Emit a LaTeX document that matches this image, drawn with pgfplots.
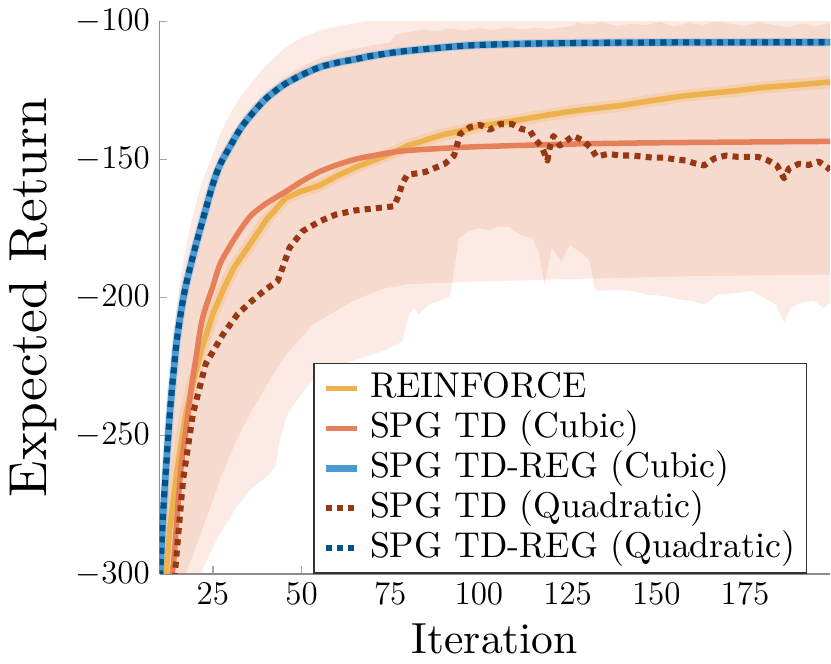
\documentclass[border=0pt]{standalone}
\usepackage{fontspec}
\setmainfont{lmroman10-regular}[Extension=.otf]
\usepackage{pgfplots}
\usepackage{pgfplotstable}
\pgfplotsset{compat=1.18}

\definecolor{cRein}{RGB}{237,177,78}
\definecolor{cTD}{RGB}{229,128,90}
\definecolor{cReg}{RGB}{75,155,210}
\definecolor{cTDq}{RGB}{150,56,20}
\definecolor{cRegq}{RGB}{0,82,136}

% mean curves
\pgfplotstableread{
x y
11 -320
11.8 -300
13 -282
15 -262
17.4 -242
20 -228
22 -218
25 -206
28 -197
31 -189
34.8 -182
40 -172
45.5 -164
50 -161.5
55 -159.5
60 -156
65 -153
70 -150.5
76 -147.5
80 -145
85 -143
90 -141
95 -139.7
100 -138
110 -136
117.7 -134.3
125 -132.8
130 -132
140 -130.5
150 -128.5
158 -127
170 -125.5
180 -124
190 -123
199 -122
}\rein

\pgfplotstableread{
x y
13 -305
14 -295
15 -278
16 -262
17.4 -248
19 -232
20 -224
22 -208
25 -196
27 -188
30 -181
33 -175
36 -170
40 -166
45.5 -161.7
50 -158
55 -154.5
60 -152
65 -150
70 -148.7
78 -147
90 -146
100 -145.4
125 -144.5
150 -144
199 -143.5
}\tdcub

\pgfplotstableread{
x y
10 -305
11 -278
12 -258
13 -240
14 -226
15 -214
17 -198
20 -182
23 -168
25 -159
27 -152
30 -145
33 -138.5
36 -133.6
40 -128
45 -123
50 -119.5
55 -116.7
60 -115
65 -113.8
70 -112.5
78 -111
90 -109.5
100 -108.6
120 -108
150 -107.7
199 -107.6
}\regcub

\pgfplotstableread{
x y
13.5 -310
14.3 -300
16.6 -266
19.4 -242
23 -224
27.8 -213.5
32 -206
36.2 -201
40 -197
43.3 -194
45 -188
46.6 -182
50.3 -176
55 -172.5
59.6 -170
65 -168.5
70 -167.8
76 -167
77.4 -163
78.4 -158.8
79.8 -155.6
84.8 -154.6
90.4 -151.6
93 -148.6
94.7 -140.8
97.5 -138.3
100.3 -137.5
103 -139.3
106 -137.2
109.3 -137.2
112 -139
114.4 -139.7
115.8 -142.6
117.7 -145.5
119.3 -150.4
120 -145.5
121 -141.5
122.8 -145
124.2 -143.7
126.6 -141.5
129.4 -143.2
131.7 -146.1
133.1 -149
136.5 -148
139.6 -148.6
143 -148.6
146.3 -149
149 -149.4
152.3 -149.4
155.6 -150.1
158.4 -150.4
160.7 -151.4
163.5 -152.2
166.3 -149.7
169.7 -148.6
173 -149.1
175.8 -149.1
178.7 -149.1
181.5 -150.4
184 -152.2
186 -156.9
187.4 -153.3
190.2 -151.6
193 -152
195.8 -150.8
198.6 -153.3
199 -154
}\tdquad

\begin{document}
\begin{tikzpicture}
\begin{axis}[
  width=243.3pt, height=200.5pt, scale only axis,
  xmin=10, xmax=199, ymin=-300, ymax=-100,
  axis x line=bottom, axis y line=left,
  axis line style={-, draw=gray!90, line width=0.6pt},
  xtick={25,50,...,175}, ytick={-300,-250,...,-100},
  tick align=inside, major tick length=2.8pt,
  tick style={draw=gray!70, line width=0.5pt},
  tick label style={font=\fontsize{12.6}{15}\selectfont},
  xlabel={Iteration}, ylabel={Expected Return},
  xlabel style={font=\fontsize{15.8}{18}\selectfont},
  ylabel style={font=\fontsize{19.4}{22}\selectfont},
  legend cell align=left,
  legend style={at={(0.966,0)}, anchor=south east, draw=black!80,
    line width=0.5pt, fill=white, inner xsep=3pt, inner ysep=1.8pt,
    font=\fontsize{13}{15}\selectfont, column sep=2.4pt,
    nodes={font=\fontsize{13}{15}\selectfont, inner sep=1pt,
      text height=9.5pt, text depth=3pt}},
  legend image code/.code={\draw[#1, line cap=butt] (0pt,0pt) -- (11.5pt,0pt);},
]
% band: SPG TD (Cubic)
\addplot[fill=cTD, fill opacity=0.16, draw=none, forget plot] coordinates {
(11,-275) (12,-254) (14,-222) (16,-202) (18,-189) (20,-178) (23,-164)
(27,-148.5) (30,-141.5) (36,-130.5) (40,-125.5) (45,-120.5) (50,-116.5)
(55,-113.5) (60,-111.5) (65,-110) (70,-108.8) (75,-107.6) (76.5,-104.8)
(80,-104) (84,-103) (88,-103.6) (92,-102.6) (96,-103.4) (100,-102.4)
(104,-103.2) (108,-102.2) (112,-103) (116,-102.4) (120,-102.8) (124,-102.2)
(127,-101.5) (128,-98) (199,-96)
(199,-191.7) (160,-192.3) (130,-193.2) (100,-194.2) (80,-195.2) (73,-196.8)
(64,-201.5) (53,-210) (45.5,-221) (41,-230) (36,-241) (31.5,-252) (27,-266)
(22,-284) (17.4,-300) (14,-330) (11,-380)
} -- cycle;
% band: SPG TD (Quadratic)
\addplot[fill=cTD, fill opacity=0.16, draw=none, forget plot] coordinates {
(11,-265) (12,-245) (14,-212) (16,-192) (18,-178) (20,-167) (22,-158)
(24,-151.6) (27,-141) (30,-133) (33,-127) (36.2,-121.7) (40,-116)
(45.5,-109.5) (50,-106) (55,-103.5) (60,-101.8) (68,-100) (80,-98.5)
(100,-98) (126,-98) (127.5,-100.5) (131,-101.2) (135,-100.4) (139,-101.8)
(143,-100.8) (147,-101.5) (151,-100.2) (155,-101.9) (159,-100.6) (163,-101.3)
(167,-100.1) (171,-100.9) (175,-101.7) (179,-100.3) (183,-101.4) (187,-102.2)
(191,-100.8) (195,-101.9) (199,-100.6)
(199,-202) (197.2,-203.7) (194.4,-201.2) (190.7,-201.9) (187.9,-203.7)
(186,-209) (183.7,-202.6) (180.3,-200.1) (176.7,-197.6) (173,-198.3)
(167.4,-199) (163.5,-202.6) (160.7,-201.4) (157,-200.8) (152.2,-199.5)
(147.8,-199) (143,-197.6) (138.2,-197.2) (133.7,-197.6) (132.6,-196.5)
(131.2,-186.8) (129,-184) (125.6,-181) (123.3,-186.8) (120.5,-182)
(118.5,-195.4) (116.8,-183.2) (114.9,-178.5) (112,-177.5) (110.1,-176)
(108.4,-174.3) (105.6,-174.3) (102.8,-175.6) (100,-175) (97.2,-176)
(94.4,-178.5) (93,-190) (91.9,-199.5) (89.6,-200.8) (86,-202.6) (83,-206)
(81.7,-203.7) (80.3,-206) (78.4,-216) (73.6,-219) (64.3,-223) (58,-226)
(53,-230) (49.4,-236) (46.6,-241) (45.5,-244) (44.7,-248) (43.8,-252)
(42.7,-261) (41,-264) (36,-269) (31.5,-276) (26,-288) (22.2,-298)
(20,-310) (12,-420)
} -- cycle;
% halos
\addplot[cRein, opacity=0.25, line width=4.5pt, forget plot] table {\rein};
\addplot[cReg, opacity=0.2, line width=3.2pt, forget plot, smooth] table {\regcub};
% mean curves
\addplot[cRein, line width=2pt, line join=round] table {\rein};
\addlegendentry{REINFORCE}
\addplot[cTD, line width=2pt, line join=round, smooth] table {\tdcub};
\addlegendentry{SPG TD (Cubic)}
\addplot[cReg, line width=2.4pt, line join=round, smooth] table {\regcub};
\addlegendentry{SPG TD-REG (Cubic)}
\addplot[cTDq, line width=2.2pt, line cap=butt, line join=round,
  dash pattern=on 2.2pt off 1.9pt] table {\tdquad};
\addlegendentry{SPG TD (Quadratic)}
\addplot[cRegq, line width=2.2pt, line cap=butt, line join=round,
  dash pattern=on 2.2pt off 1.9pt, smooth] table {\regcub};
\addlegendentry{SPG TD-REG (Quadratic)}
\end{axis}
\end{tikzpicture}
\end{document}
